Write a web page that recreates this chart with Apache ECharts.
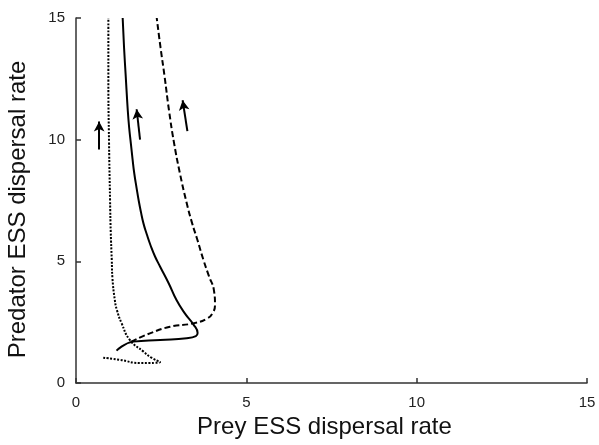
<!DOCTYPE html>
<html>
<head>
<meta charset="utf-8">
<script src="https://cdn.jsdelivr.net/npm/echarts@6/dist/echarts.min.js"></script>
<style>
  html, body { margin: 0; padding: 0; background: #fff; }
  #chart { width: 599px; height: 445px; }
</style>
</head>
<body>
<div id="chart"></div>
<script>
// curves, [prey, predator]
var solidPts = [[1.19,1.33],[1.68,1.70],[2.47,1.77],[3.25,1.84],[3.52,1.93],[3.57,2.05],[3.45,2.4],[3.2,2.85],[2.95,3.41],[2.72,4.1],[2.47,4.78],[2.32,5.2],[2.19,5.65],[2.08,6.1],[1.98,6.56],[1.91,7.0],[1.84,7.5],[1.78,8.0],[1.71,8.62],[1.66,9.2],[1.61,9.85],[1.56,10.5],[1.52,11.2],[1.46,12.6],[1.41,13.8],[1.37,15]];
var dashedPts = [[1.62,1.7],[2.17,2.04],[2.76,2.31],[3.44,2.45],[3.85,2.65],[4.02,2.9],[4.08,3.2],[4.05,3.8],[3.9,4.4],[3.74,5.06],[3.56,5.9],[3.41,6.56],[3.24,7.45],[3.05,8.62],[2.88,9.85],[2.73,11.2],[2.6,12.6],[2.48,13.8],[2.37,15]];
var dottedPts = [[0.8,1.04],[1.29,0.95],[1.88,0.82],[2.47,0.86],[2.2,1.05],[1.98,1.29],[1.58,1.77],[1.34,2.45],[1.2,3.0],[1.14,3.41],[1.07,4.3],[1.05,5.06],[1.02,6.2],[1.0,7.5],[0.97,9.85],[0.95,12.5],[0.95,15]];
// arrows: from -> to
var arrows = [
    [[0.68,9.6],[0.68,10.75]],
    [[1.88,10.0],[1.78,11.25]],
    [[3.27,10.35],[3.13,11.62]]
];
var axisTicks = [0, 5, 10, 15];

var myChart = echarts.init(document.getElementById('chart'));

var arrowLines = [];
for (var i = 0; i < arrows.length; i++) {
    arrowLines.push([{coord: arrows[i][0]}, {coord: arrows[i][1]}]);
}

function curve(pts, type) {
    return {
        type: 'line',
        data: pts,
        showSymbol: false,
        smooth: 0.5,
        lineStyle: {color: '#000', width: 2, type: type},
        silent: true
    };
}

var axisCommon = {
    type: 'value',
    min: axisTicks[0],
    max: axisTicks[axisTicks.length - 1],
    interval: 5,
    splitLine: {show: false},
    axisLine: {lineStyle: {color: '#333', width: 1.5}},
    axisTick: {inside: true, length: 5, lineStyle: {color: '#333', width: 1.5}},
    axisLabel: {color: '#222', fontSize: 15, fontFamily: 'Liberation Sans'},
    nameLocation: 'middle',
    nameTextStyle: {color: '#111', fontSize: 24, fontFamily: 'Liberation Sans'}
};

var option = {
    animation: false,
    grid: {left: 76, right: 12, top: 18, bottom: 62, outerBoundsMode: 'none'},
    xAxis: Object.assign({}, axisCommon, {
        name: 'Prey ESS dispersal rate',
        nameGap: 28,
        nameTextStyle: Object.assign({}, axisCommon.nameTextStyle, {padding: [0, 14, 0, 0]}),
        axisLabel: Object.assign({}, axisCommon.axisLabel, {margin: 12})
    }),
    yAxis: Object.assign({}, axisCommon, {
        name: 'Predator ESS dispersal rate',
        nameGap: 46,
        nameTextStyle: Object.assign({}, axisCommon.nameTextStyle, {padding: [0, 18, 0, 0]}),
        axisLabel: Object.assign({}, axisCommon.axisLabel, {margin: 11})
    }),
    series: [
        curve(solidPts, 'solid'),
        curve(dashedPts, [6, 3]),
        curve(dottedPts, [2, 1.5]),
        {
            type: 'line',
            data: [],
            markLine: {
                silent: true,
                symbol: ['none', 'arrow'],
                symbolSize: [8, 10],
                label: {show: false},
                lineStyle: {color: '#000', width: 2, type: 'solid'},
                data: arrowLines
            }
        }
    ]
};
myChart.setOption(option);
</script>
</body>
</html>
